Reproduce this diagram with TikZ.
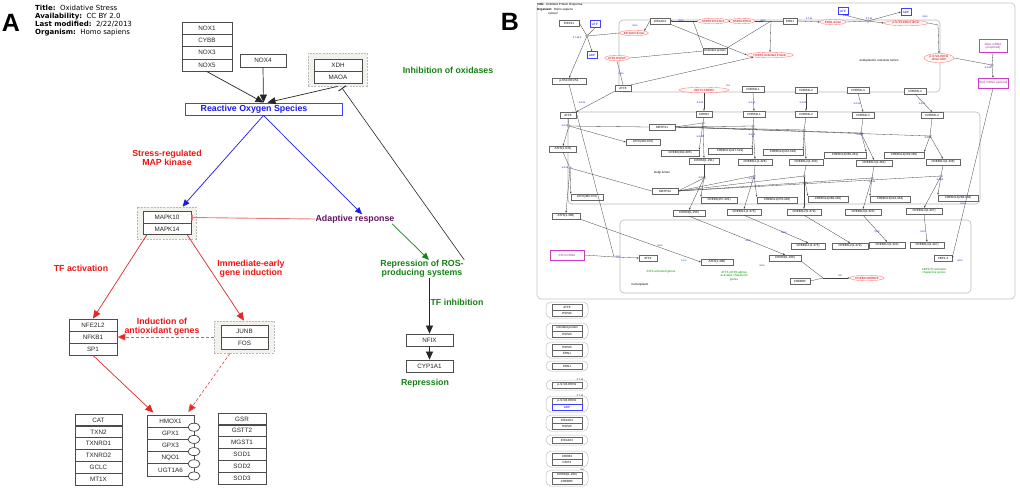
\documentclass[tikz,border=0pt]{standalone}
\usepackage{fontspec}
\setmainfont{Liberation Sans}
\newfontfamily\verd{DejaVu Sans}
\usetikzlibrary{arrows.meta,shapes.geometric,calc}
\definecolor{redT}{RGB}{240,20,20}
\definecolor{redL}{RGB}{225,40,40}
\definecolor{redD}{RGB}{240,80,80}
\definecolor{pinkL}{RGB}{235,120,120}
\definecolor{blueT}{RGB}{25,25,235}
\definecolor{greenT}{RGB}{20,130,20}
\definecolor{purpT}{RGB}{100,20,100}
\definecolor{grpfill}{RGB}{242,242,236}
\definecolor{magB}{RGB}{200,60,200}
\tikzset{
 gb/.style={draw=black!70, line width=0.75pt, fill=white, inner sep=0pt, font=\fontsize{6.3}{7}\selectfont, text=black!85},
 lbl/.style={font=\bfseries\fontsize{8.8}{8.6}\selectfont, align=center, inner sep=0.5pt},
 grp/.style={draw=gray!55, dash pattern=on 2pt off 1.2pt, line width=0.8pt, fill=grpfill, inner sep=0pt},
 aBlk/.style={draw=black!85, line width=0.7pt, -{Triangle[length=8pt,width=7pt]}},
 aBlu/.style={draw=blueT, line width=0.7pt, -{Triangle[length=7pt,width=6pt]}},
 aRed/.style={draw=redL, line width=0.7pt, -{Triangle[length=8pt,width=7pt]}},
 aRedD/.style={draw=redD, line width=0.7pt, dash pattern=on 3pt off 2pt, -{Triangle[length=8pt,width=7pt,fill=redL]}},
 aGrn/.style={draw=greenT, line width=0.7pt, -{Triangle[length=7pt,width=6pt]}},
 bn/.style={draw=black!60, fill=white, line width=0.35pt, inner sep=0.4pt, font=\fontsize{3}{3.4}\selectfont, minimum height=6pt, minimum width=#1},
 bn/.default=20pt,
 bred/.style={ellipse, draw=red!55, fill=red!3, line width=0.35pt, inner sep=0pt, font=\fontsize{3}{3.4}\selectfont, text=red!75!black, minimum height=5.5pt, minimum width=#1, align=center},
 bred/.default=24pt,
 bblu/.style={draw=blue!75, fill=white, line width=0.4pt, font=\fontsize{3}{3.4}\selectfont, text=blue, minimum width=10pt, minimum height=7pt, inner sep=0pt},
 bmag/.style={draw=magB, fill=white, line width=0.5pt, font=\fontsize{3}{3.4}\selectfont, text=magB!80!black, align=center, inner sep=0.5pt, minimum width=#1, minimum height=10pt},
 jn/.style={circle, draw=black!70, fill=white, line width=0.3pt, inner sep=0pt, minimum size=2.6pt},
 be/.style={draw=black!75, line width=0.3pt},
 ba/.style={be, -{Stealth[length=2.2pt,width=1.6pt]}},
 btx/.style={font=\fontsize{3}{3.4}\selectfont, inner sep=0},
 bgr/.style={btx, text=green!60!black, align=center},
 bbl/.style={font=\fontsize{2.4}{2.8}\selectfont, text=blue!75!black, inner sep=0},
 comp/.style={draw=gray!55, line width=0.6pt, rounded corners=4pt},
 lgrp/.style={draw=gray!50, fill=white, line width=0.5pt, rounded corners=5pt, minimum width=42pt, inner sep=0pt},
 ttl/.style={anchor=west, inner sep=0, font=\verd\fontsize{7}{8}\selectfont},
}
\begin{document}
\begin{tikzpicture}[x=1pt,y=-1pt]
\useasboundingbox (0,0) rectangle (1020,499);
\fill[white] (0,0) rectangle (1020,499);

% ================= PANEL A =================
\node[font=\bfseries\fontsize{25}{25}\selectfont, inner sep=0] (labA) at (11,23) {A};
\node[ttl] (t1) at (35,8) {\textbf{Title:}\ \ Oxidative Stress};
\node[ttl] (t2) at (35,16.3) {\textbf{Availability:}\ \ CC BY 2.0};
\node[ttl] (t3) at (35,24.5) {\textbf{Last modified:}\ \ 2/22/2013};
\node[ttl] (t4) at (35,32.8) {\textbf{Organism:}\ \ Homo sapiens};

% NOX stack
\node[gb, minimum width=50pt, minimum height=12.3pt] (nox1) at (207,28.2) {NOX1};
\node[gb, minimum width=50pt, minimum height=12.3pt] (cybb) at (207,40.5) {CYBB};
\node[gb, minimum width=50pt, minimum height=12.3pt] (nox3) at (207,52.8) {NOX3};
\node[gb, minimum width=50pt, minimum height=12.3pt] (nox5) at (207,65.1) {NOX5};
\node[gb, minimum width=46pt, minimum height=13pt] (nox4) at (263,60.5) {NOX4};
\node[grp, minimum width=59pt, minimum height=33pt] (xdhgrp) at (337.5,69.5) {};
\node[gb, minimum width=48pt, minimum height=12pt] (xdh) at (338,65) {XDH};
\node[gb, minimum width=48pt, minimum height=12pt] (maoa) at (338,77) {MAOA};
\node[lbl, text=greenT] (inhox) at (448,70) {Inhibition of oxidases};

\node[draw=blue!75, line width=0.9pt, fill=white, minimum width=157pt, minimum height=12pt, inner sep=0] (ros) at (263.5,109) {};
\node[lbl, text=blueT] (rostxt) at (254,109) {Reactive Oxygen Species};

\draw[aBlk] (nox5.south) -- (ros.north);
\draw[aBlk] (nox4.south) -- (ros.north);
\draw[aBlk] (xdhgrp.south) -- ([xshift=4pt]ros.north);

% MAPK
\node[lbl, text=redT] (srmk) at (167,158) {Stress-regulated\\MAP kinase};
\node[grp, minimum width=59pt, minimum height=32pt] (mapkgrp) at (166.5,223) {};
\node[gb, minimum width=48pt, minimum height=11.5pt] (mapk10) at (167,217.5) {MAPK10};
\node[gb, minimum width=48pt, minimum height=11.5pt] (mapk14) at (167,229) {MAPK14};
\node[lbl, text=purpT] (adapt) at (355,219) {Adaptive response};
\node[lbl, text=greenT] (repr) at (422,269) {Repression of ROS-\\producing systems};
\node[lbl, text=greenT] (tfinh) at (457,302) {TF inhibition};
\node[gb, minimum width=47pt, minimum height=12pt] (nfix) at (429.5,340) {NFIX};
\node[gb, minimum width=47pt, minimum height=12pt] (cyp) at (429.5,366) {CYP1A1};
\node[lbl, text=greenT] (reprs) at (425,383) {Repression};

\coordinate (inhT) at (342,88);
\draw[draw=black!85, line width=0.6pt, -{Bar[width=9pt,line width=0.9pt]}] (repr.north east) -- (inhT);
\draw[aBlu] (ros.south) -- ([xshift=16pt]mapkgrp.north);
\draw[aBlu] (ros.south) -- ([xshift=7pt]adapt.north);
\draw[draw=pinkL, line width=0.9pt, -{Bar[width=6pt,line width=1.4pt]}] (adapt.west) -- (mapk10.east);
\draw[aGrn] ([xshift=-3pt]adapt.south east) -- ([xshift=7pt]repr.north);
\draw[aBlk] (nfix.north |- repr.south) -- (nfix.north);
\draw[aBlk] (nfix.south) -- (cyp.north);

% lower left
\node[lbl, text=redT] (tfact) at (81,268) {TF activation};
\node[lbl, text=redT] (ieg) at (251,269) {Immediate-early\\gene induction};
\node[lbl, text=redT] (indox) at (162,327) {Induction of\\antioxidant genes};
\node[gb, minimum width=48pt, minimum height=12pt] (nfe2l2) at (93,325) {NFE2L2};
\node[gb, minimum width=48pt, minimum height=12pt] (nfkb1) at (93,337) {NFKB1};
\node[gb, minimum width=48pt, minimum height=12pt] (sp1) at (93,349) {SP1};
\node[grp, minimum width=60pt, minimum height=32pt] (junbgrp) at (244,337) {};
\node[gb, minimum width=47pt, minimum height=12pt] (junb) at (244.5,331) {JUNB};
\node[gb, minimum width=47pt, minimum height=12pt] (fos) at (244.5,343) {FOS};

\draw[aRed] ([xshift=4pt]mapk14.south west) -- (nfe2l2.north);
\draw[aRed] ([xshift=-4pt]mapk14.south east) -- (junbgrp.north);
\draw[aRedD] (junbgrp.west) -- (nfkb1.east);

% bottom stacks
\node[gb, minimum width=47pt, minimum height=11.83pt] (cat) at (98.5,419.9) {CAT};
\node[gb, minimum width=47pt, minimum height=11.83pt] (txn2) at (98.5,431.8) {TXN2};
\node[gb, minimum width=47pt, minimum height=11.83pt] (txnrd1) at (98.5,443.6) {TXNRD1};
\node[gb, minimum width=47pt, minimum height=11.83pt] (txnrd2) at (98.5,455.4) {TXNRD2};
\node[gb, minimum width=47pt, minimum height=11.83pt] (gclc) at (98.5,467.3) {GCLC};
\node[gb, minimum width=47pt, minimum height=11.83pt] (mt1x) at (98.5,479.1) {MT1X};

\node[gb, minimum width=47pt, minimum height=12.2pt] (hmox1) at (170.5,421.1) {HMOX1};
\node[gb, minimum width=47pt, minimum height=12.2pt] (gpx1) at (170.5,433.3) {GPX1};
\node[gb, minimum width=47pt, minimum height=12.2pt] (gpx3) at (170.5,445.5) {GPX3};
\node[gb, minimum width=47pt, minimum height=12.2pt] (nqo1) at (170.5,457.7) {NQO1};
\node[gb, minimum width=47pt, minimum height=12.2pt] (ugt) at (170.5,469.9) {UGT1A6};
\foreach \yy in {427.2,439.4,451.6,463.8,476}
  \draw[draw=black!75, line width=0.7pt, fill=white] (194,\yy) ellipse [x radius=6pt, y radius=4pt];

\node[gb, minimum width=48pt, minimum height=11.83pt] (gsr) at (242,418.9) {GSR};
\node[gb, minimum width=48pt, minimum height=11.83pt] (gstt2) at (242,430.8) {GSTT2};
\node[gb, minimum width=48pt, minimum height=11.83pt] (mgst1) at (242,442.6) {MGST1};
\node[gb, minimum width=48pt, minimum height=11.83pt] (sod1) at (242,454.4) {SOD1};
\node[gb, minimum width=48pt, minimum height=11.83pt] (sod2) at (242,466.3) {SOD2};
\node[gb, minimum width=48pt, minimum height=11.83pt] (sod3) at (242,478.1) {SOD3};

\draw[aRed, shorten >=3pt] (sp1.south) -- ([xshift=-15pt]hmox1.north);
\draw[aRedD, shorten >=3pt] ([xshift=-14pt]junbgrp.south) -- ([xshift=16pt]hmox1.north);

% ================= PANEL B =================
\node[font=\bfseries\fontsize{25}{25}\selectfont, inner sep=0] (labB) at (510,22) {B};
\draw[draw=gray!45, line width=0.7pt, rounded corners=4pt] (537,3) rectangle (1015,299);
\draw[comp] (619,20) rectangle (940,92);
\draw[comp] (568,112) rectangle (980,204);
\draw[comp] (620,220) rectangle (971,293);

\node[btx, anchor=west] (btitle) at (537,5) {\textbf{Title:}\ \ Unfolded Protein Response};
\node[btx, anchor=west] (borg) at (537,9.5) {\textbf{Organism:}\ \ Homo sapiens};
\node[btx, anchor=west] (bcyt) at (548,14) {cytosol};
\node[btx] (erl) at (879,61) {endoplasmic reticulum lumen};
\node[btx] (gol) at (662,173) {Golgi lumen};
\node[btx] (nuc) at (640,285) {nucleoplasm};

% cytosol / ER top
\node[bn=20pt] (eif2s1) at (569,23) {EIF2S1};
\node[bblu] (atp1) at (595,24) {ATP};
\node[bblu] (adp1) at (592,55) {ADP};
\node[bn=34pt] (peif2s1) at (569,81) {p-S52-EIF2S1};
\node[bn=20pt] (eif2ak3) at (660,21) {EIF2AK3};
\node[bred=26pt] (perkd) at (634,33) {EIF2AK3 dimer};
\node[bred=24pt] (atf6hsp) at (617,58) {ATF6:HSPA5};
\node[bred=24pt] (hsp1) at (713,21) {HSPA5:EIF2AK3};
\node[bred=20pt] (hsp2) at (742,21) {HSPA5:ERN1};
\node[bn=24pt] (unf) at (715,51) {Unfolded protein};
\node[bn=14pt] (ern1) at (790,21) {ERN1};
\node[bred=26pt] (ernd) at (833,22) {ERN1 dimer};
\node[bblu] (atp2) at (843,11) {ATP};
\node[bblu] (adp2) at (906,12) {ADP};
\node[bred=44pt] (pernd) at (906,23) {p-S724-ERN1 dimer};
\node[bred=46pt] (hspup) at (770,55) {HSPA5:Unfolded Protein};
\node[bred=30pt, minimum height=9pt] (perndadp) at (939,58) {p-S724-ERN1\\dimer:ADP};
\node[bmag=28pt, minimum height=13pt] (xbpu) at (993,46) {Xbp1 mRNA\\(unspliced)};
\node[bmag=28pt] (xbps) at (993,83) {Xbp1 mRNA (spliced)};
\node[bn=16pt] (atf6er) at (623,88) {ATF6};
\node[bred=50pt] (ddit) at (704,90) {DDIT3:CREB3};
\node[bn=22pt] (c1er) at (753,89) {CREB3L1};
\node[bn=22pt] (c2er) at (806,90) {CREB3L2};
\node[bn=22pt] (c3er) at (858,90) {CREB3L3};
\node[bn=22pt] (c4er) at (915,91) {CREB3L4};

% Golgi
\node[bn=16pt] (atf6g) at (568,115) {ATF6};
\node[bn=16pt] (creb3g) at (704,114) {CREB3};
\node[bn=22pt] (c1g) at (754,114) {CREB3L1};
\node[bn=22pt] (c2g) at (806,114) {CREB3L2};
\node[bn=22pt] (c3g) at (863,115) {CREB3L3};
\node[bn=22pt] (c4g) at (932,115) {CREB3L4};
\node[bn=26pt] (mbtps1) at (662,127) {MBTPS1};
\node[bn=26pt] (mbtps2) at (665,191) {MBTPS2};
\node[bn=27pt] (atf6a) at (563,149) {ATF6(1-670)};
\node[bn=34pt] (atf6b) at (643,142) {ATF6(420-670)};
\node[bn=32pt] (atf6c) at (587,197) {ATF6(380-670)};
\node[bn=28pt] (atf6d) at (566,216) {ATF6(1-380)};
\node[bn=38pt] (c3a) at (680,153) {CREB3(292-395)};
\node[bn=30pt] (c3b) at (704,161) {CREB3(1-291)};
\node[bn=44pt] (c1a) at (730,151) {CREB3L1(427-519)};
\node[bn=34pt] (c1b) at (755,162) {CREB3L1(1-426)};
\node[bn=40pt] (c2a) at (783,152) {CREB3L2(431-520)};
\node[bn=34pt] (c2b) at (806,162) {CREB3L2(1-430)};
\node[bn=42pt] (c3la) at (845,155) {CREB3L3(365-461)};
\node[bn=36pt] (c3lb) at (874,163) {CREB3L3(1-364)};
\node[bn=40pt] (c4a) at (904,155) {CREB3L4(339-395)};
\node[bn=34pt] (c4b) at (943,162) {CREB3L4(1-338)};
\node[bn=36pt] (c3c) at (719,200) {CREB3(257-291)};
\node[bn=40pt] (c1c) at (777,200) {CREB3L1(376-426)};
\node[bn=40pt] (c2c) at (828,199) {CREB3L2(380-430)};
\node[bn=40pt] (c3lc) at (890,199) {CREB3L3(324-364)};
\node[bn=40pt] (c4c) at (958,198) {CREB3L4(298-338)};
\node[bn=32pt] (c3d) at (689,213) {CREB3(1-256)};
\node[bn=34pt] (c1d) at (744,212) {CREB3L1(1-375)};
\node[bn=34pt] (c2d) at (804,212) {CREB3L2(1-379)};
\node[bn=36pt] (c3ld) at (863,212) {CREB3L3(1-323)};
\node[bn=36pt] (c4d) at (924,211) {CREB3L4(1-297)};

% nucleoplasm
\node[bn=34pt] (c1n) at (808,246) {CREB3L1(1-375)};
\node[bn=36pt] (c2n) at (850,246) {CREB3L2(1-379)};
\node[bn=36pt] (c3ln) at (887,245) {CREB3L3(1-323)};
\node[bn=34pt] (c4n) at (927,245) {CREB3L4(1-297)};
\node[bn=32pt] (c3n) at (785,258) {CREB3(1-256)};
\node[bn=18pt] (xbp1) at (943,258) {XBP1-2};
\node[bn=18pt] (atf4n) at (648,258) {ATF4};
\node[bn=32pt] (atf6n) at (717,262) {ATF6(1-380)};
\node[bn=20pt] (crebrf) at (800,281) {CREBRF};
\node[bred=34pt] (c3crebrf) at (867,278) {CREB3:CREBRF};
\node[bmag=34pt] (atf4m) at (567,255) {ATF4 mRNA};
\node[bgr] (g1) at (661,272) {ATF4 activated genes};
\node[bgr] (g2) at (734,276) {ATF6 (ATF6-alpha)\\activates chaperone\\genes};
\node[bgr] (g3) at (934,271) {XBP1(S) activates\\chaperone genes};

% junctions
\node[jn] (j1) at (587,36) {};
\node[jn] (j5) at (868,21) {};
\node[jn] (j6) at (992,65) {};
\coordinate (j2) at (614,257);
\coordinate (j3) at (771,21);
\coordinate (j4) at (693,21);
\coordinate (jp) at (938,25);
\node[jn] (ja) at (569,126) {};
\node[jn] (jb) at (570,168) {};
\node[jn] (k0) at (703,123) {};
\node[jn] (k1) at (753,126) {};
\node[jn] (k2) at (804,130) {};
\node[jn] (k3) at (861,133) {};
\node[jn] (k4) at (930,136) {};
\node[jn] (m0) at (704,178) {};
\node[jn] (m1) at (754,176) {};
\node[jn] (m2) at (804,176) {};
\node[jn] (m3) at (872,178) {};
\node[jn] (m4) at (941,176) {};
\coordinate (jx) at (823,278);

% B edges
\draw[be] (eif2s1.east) -- (j1);
\draw[be] (atp1.south) -- (j1);
\draw[be] (perkd.west) -- (j1);
\draw[ba] (j1) -- (peif2s1.north);
\draw[ba] (j1) -- (adp1.north);
\draw[ba] (eif2ak3.west) -- (perkd.north east);
\draw[be] (peif2s1.south) -- (j2);
\draw[be] (atf4m.east) -- (j2);
\draw[ba] (j2) -- (atf4n.west);
\draw[be] (ern1.west) -- (j3) -- (hsp2.east);
\draw[be] (hsp2.west) -- (hsp1.east);
\draw[ba] (hsp1.west) -- (eif2ak3.east);
\draw[ba] (j3) -- (hspup.north);
\draw[be] (unf.north east) -- (j3);
\draw[be] (unf.north west) -- (j4);
\draw[ba] (eif2ak3.south east) -- (hspup.west);
\draw[ba] (atf6er.north east) -- (hspup.south west);
\draw[be] (atf6hsp.east) -- (unf.west);
\draw[be] (atf6hsp.south) -- (atf6er.north);
\draw[ba] (ern1.east) -- (ernd.west);
\draw[be] (ernd.east) -- (j5);
\draw[be] (atp2.south) -- (j5);
\draw[ba] (j5) -- (adp2.west);
\draw[ba] (j5) -- (pernd.west);
\draw[be] (pernd.east) -- (jp);
\draw[ba] (jp) -- (perndadp.north);
\draw[be] (perndadp.east) -- (j6);
\draw[be] (xbpu.south) -- (j6);
\draw[ba] (j6) -- (xbps.north);
\draw[ba] (xbps.south) -- (xbp1.east);
\draw[ba] (atf6er.south west) -- (atf6g.north east);
\draw[ba] (ddit.south) -- (creb3g.north);
\draw[ba] (c1er.south) -- (c1g.north);
\draw[ba] (c2er.south) -- (c2g.north);
\draw[ba] (c3er.south) -- (c3g.north);
\draw[ba] (c4er.south) -- (c4g.north);
% ATF6 cleavage
\draw[be] (atf6g.south) -- (ja);
\draw[be] (mbtps1.west) -- (ja);
\draw[ba] (ja) -- (atf6a.north);
\draw[ba] (ja) -- (atf6b.west);
\draw[be] (atf6a.south) -- (jb);
\draw[be] (mbtps2.west) -- (jb);
\draw[ba] (jb) -- (atf6c.north west);
\draw[ba] (jb) -- (atf6d.north);
\draw[ba] (atf6d.south east) -- (atf6n.west);
% CREB family
\foreach \g/\k/\a/\b/\m/\c/\d/\n in {creb3g/k0/c3a/c3b/m0/c3c/c3d/c3n, c1g/k1/c1a/c1b/m1/c1c/c1d/c1n, c2g/k2/c2a/c2b/m2/c2c/c2d/c2n, c3g/k3/c3la/c3lb/m3/c3lc/c3ld/c3ln, c4g/k4/c4a/c4b/m4/c4c/c4d/c4n}{
  \draw[be] (\g.south) -- (\k);
  \draw[be] (mbtps1.east) -- (\k);
  \draw[ba] (\k) -- (\a.north east);
  \draw[ba] (\k) -- (\b.north);
  \draw[be] (\b.south) -- (\m);
  \draw[be] (mbtps2.east) -- (\m);
  \draw[ba] (\m) -- (\c.north west);
  \draw[ba] (\m) -- (\d.north);
  \draw[ba] (\d.south) -- (\n.north);
}
\draw[be] (c3n.south east) -- (jx);
\draw[be] (crebrf.east) -- (jx);
\draw[ba] (jx) -- (c3crebrf.west);

% small blue annotations
\foreach \px/\py/\tt in {577/38/2.7.11.1, 635/26/3.6.1, 681/21/3.6.1, 763/21/3.6.1, 809/19/2.7.11, 846/16/2.7.11, 869/19/2.7.11, 925/17/3.6.1, 988/68/3.1.26, 621/74/3.6.1, 582/103/3.4.21, 700/103/3.4.21, 752/103/3.4.21, 803/103/3.4.21, 857/104/3.4.21, 922/104/3.4.21, 728/86/3.4, 565/126/3.4.21, 700/137/3.4.21, 752/135/3.4.21, 860/135/3.4.21, 928/138/3.4.21, 565/168/3.4.24, 702/178/3.4.24, 752/179/3.4.24, 872/182/3.4.24, 940/180/3.4.24, 660/246/3.6.1, 748/241/3.6.1, 784/233/3.6.1, 877/232/3.6.1, 923/232/3.6.1, 618/257/3.6.1, 684/261/1.1.1, 762/266/3.6.1, 960/261/3.6.1, 840/276/3.6, 963/204/3.6.1}
  \node[bbl] at (\px,\py) {\tt};

% legend groups
\node[lgrp, minimum height=16pt] (lg1) at (567,310) {};
\node[bn=30pt] (lg1a) at (567,307) {ATF6};
\node[bn=30pt] (lg1b) at (567,313) {HSPA5};
\node[lgrp, minimum height=16pt] (lg2) at (567,331) {};
\node[bn=30pt] (lg2a) at (567,328) {unfolded protein};
\node[bn=30pt] (lg2b) at (567,334) {HSPA5};
\node[lgrp, minimum height=16pt] (lg3) at (567,350) {};
\node[bn=30pt] (lg3a) at (567,347) {HSPA5};
\node[bn=30pt] (lg3b) at (567,353) {ERN1};
\node[lgrp, minimum height=10pt] (lg4) at (567,366) {};
\node[bn=30pt] (lg4a) at (567,366) {ERN1};
\node[lgrp, minimum height=10pt] (lg5) at (567,385) {};
\node[bn=30pt] (lg5a) at (567,385) {p-S724-ERN1};
\node[bbl] at (580,380) {2.7.11};
\node[lgrp, minimum height=16pt] (lg6) at (567,404) {};
\node[bn=30pt] (lg6a) at (567,401) {p-S724-ERN1};
\node[bn=30pt, draw=blue!75, text=blue] (lg6b) at (567,407) {ADP};
\node[bbl] at (580,396) {2.7.11};
\node[lgrp, minimum height=16pt] (lg7) at (567,423) {};
\node[bn=30pt] (lg7a) at (567,420) {EIF2AK3};
\node[bn=30pt] (lg7b) at (567,426) {HSPA5};
\node[lgrp, minimum height=10pt] (lg8) at (567,440) {};
\node[bn=30pt] (lg8a) at (567,440) {EIF2AK3};
\node[lgrp, minimum height=16pt] (lg9) at (567,459) {};
\node[bn=30pt] (lg9a) at (567,456) {CREB3};
\node[bn=30pt] (lg9b) at (567,462) {DDIT3};
\node[lgrp, minimum height=16pt] (lg10) at (567,478) {};
\node[bn=30pt] (lg10a) at (567,475) {CREB3(1-256)};
\node[bn=30pt] (lg10b) at (567,481) {CREBRF};
\node[bbl] at (582,470) {3.6};
\end{tikzpicture}
\end{document}
